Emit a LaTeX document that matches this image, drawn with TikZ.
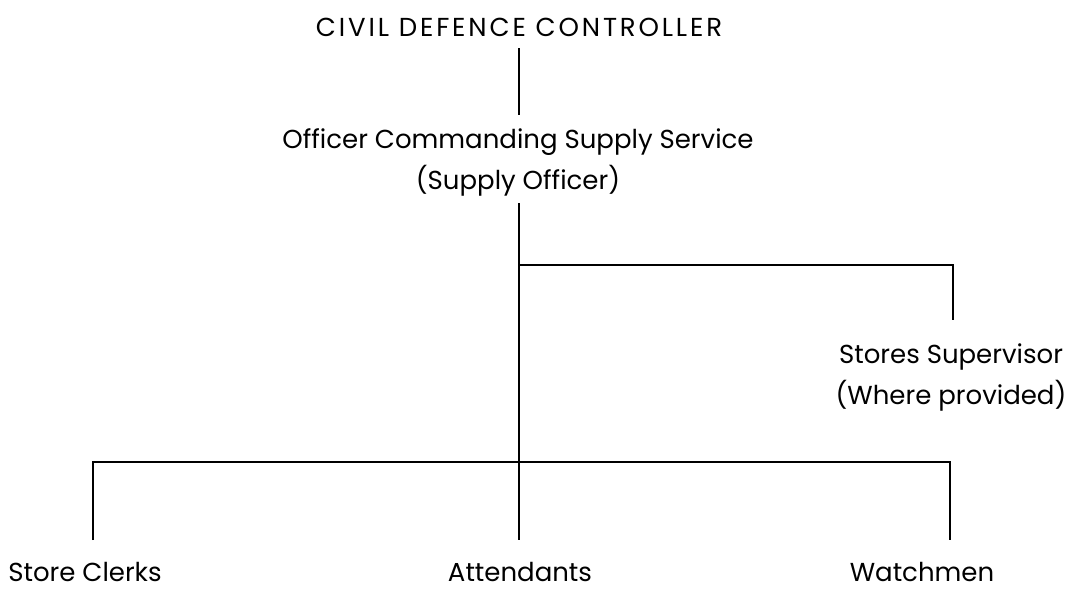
\documentclass[tikz,border=0pt]{standalone}
\usepackage{fontspec}
\setmainfont{Poppins}
\newfontfamily\capsfont{Poppins}[LetterSpace=11]
\begin{document}
\begin{tikzpicture}[x=1pt,y=-1pt,
  lbl/.style={inner sep=0pt,font=\fontsize{26}{41}\selectfont},
  conn/.style={line width=1.4pt}]
\useasboundingbox (0,0) rectangle (1071,590);
\node[lbl,font=\capsfont\fontsize{26}{41}\selectfont] (cdc) at (519,27) {CIVIL DEFENCE CONTROLLER};
\node[lbl,align=center] (ocs) at (518,162) {Officer Commanding Supply Service\\(Supply Officer)};
\node[lbl,align=center] (ss) at (951,377) {Stores Supervisor\\(Where provided)};
\node[lbl] (sc) at (85,572) {Store Clerks};
\node[lbl] (att) at (520,572) {Attendants};
\node[lbl] (wm) at (922,572) {Watchmen};
\coordinate (t1) at (519,48);
\coordinate (t2) at (519,115);
\coordinate (a) at (519,203);
\coordinate (j1) at (519,265);
\coordinate (r1) at (953,265);
\coordinate (r2) at (953,320);
\coordinate (j2) at (519,462);
\coordinate (l1) at (93,462);
\coordinate (l2) at (93,540);
\coordinate (m2) at (519,540);
\coordinate (w1) at (950,462);
\coordinate (w2) at (950,540);
\draw[conn] (t1) -- (t2);
\draw[conn] (a) -- (j1) -- (j2) -- (m2);
\draw[conn] (j1) -- (r1) -- (r2);
\draw[conn] (l2) -- (l1) -- (w1) -- (w2);
\end{tikzpicture}
\end{document}
